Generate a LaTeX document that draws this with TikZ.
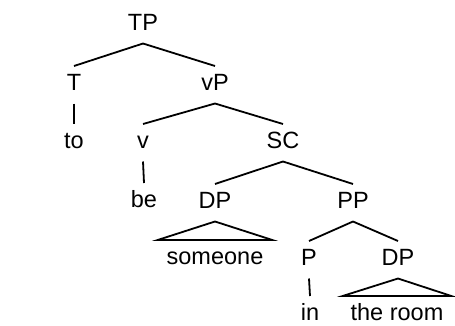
\documentclass[tikz,border=0pt]{standalone}
\usepackage{fontspec}
\setmainfont{Liberation Sans}

\begin{document}
\begin{tikzpicture}[x=1pt,y=-1pt,
        cat/.style={anchor=base,inner sep=0pt,outer sep=0pt,
            text height=24pt,text depth=13.5pt,
            font=\fontsize{23.5}{27}\selectfont},
        branch/.style={line width=1.8pt},
        unary/.style={line width=1.8pt}]
    \useasboundingbox (0,0) rectangle (455,325);

    \node[cat] (TP) at (143,30) {TP};
    \node[cat] (T) at (74,90) {T};
    \node[cat] (vP) at (215,90) {vP};
    \node[cat] (to) at (74,148) {to};
    \node[cat] (v) at (143,148) {v};
    \node[cat] (SC) at (283,148) {SC};
    \node[cat] (be) at (144,207) {be};
    \node[cat] (DP) at (215,208) {DP};
    \node[cat] (PP) at (353,208) {PP};
    \node[cat] (someone) at (215,264) {someone};
    \node[cat] (P) at (309,265) {P};
    \node[cat] (DPb) at (398,265) {DP};
    \node[cat] (in) at (310,320) {in};
    \node[cat] (room) at (397,320) {the room};

    \draw[branch] (TP.south) -- (T.north);
    \draw[branch] (TP.south) -- (vP.north);
    \draw[unary] (T.south) -- (to.north);
    \draw[branch] (vP.south) -- (v.north);
    \draw[branch] (vP.south) -- (SC.north);
    \draw[unary] (v.south) -- (be.north);
    \draw[branch] (SC.south) -- (DP.north);
    \draw[branch] (SC.south) -- (PP.north);
    \draw[branch] (PP.south) -- (P.north);
    \draw[branch] (PP.south) -- (DPb.north);
    \draw[unary] (P.south) -- (in.north);

    \draw[branch] (DP.south) -- ([xshift=-9pt]someone.north west)
        -- ([xshift=9pt]someone.north east) -- cycle;
    \draw[branch] (DPb.south) -- ([xshift=-8pt]room.north west)
        -- ([xshift=8pt]room.north east) -- cycle;
\end{tikzpicture}
\end{document}
